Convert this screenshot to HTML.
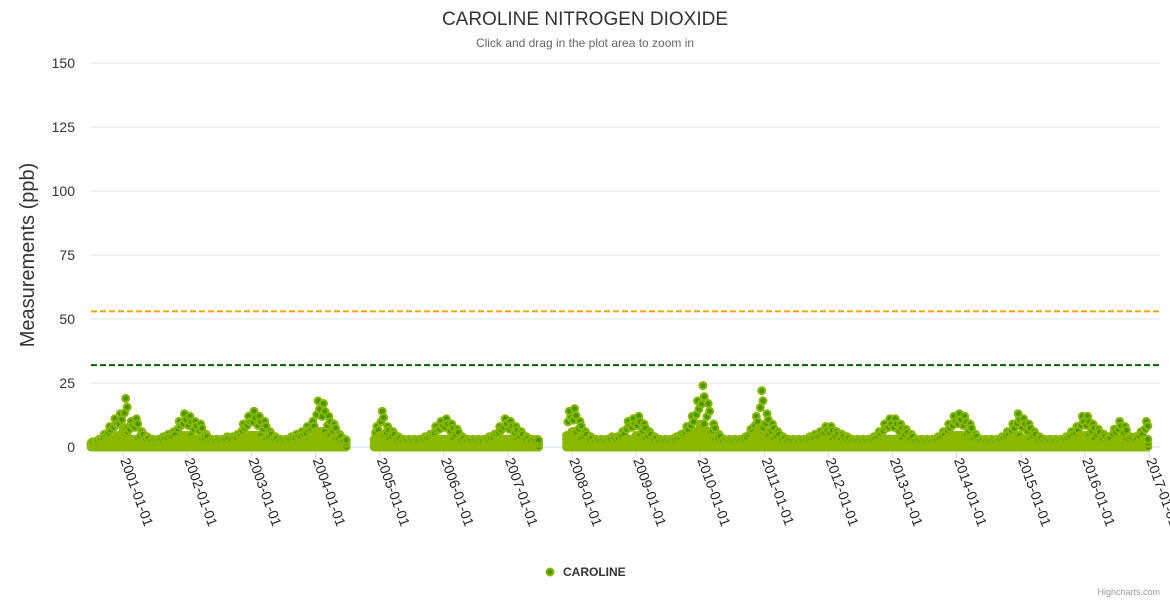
<!DOCTYPE html>
<html><head><meta charset="utf-8"><style>
body{margin:0;background:#fff;font-family:"Liberation Sans",sans-serif}
svg text{font-family:"Liberation Sans",sans-serif}
</style></head><body>
<svg id="chart" width="1170" height="600" xmlns="http://www.w3.org/2000/svg">
<rect width="1170" height="600" fill="#fff"/>
<text x="585" y="25" text-anchor="middle" font-size="19" fill="#333">CAROLINE NITROGEN DIOXIDE</text>
<text x="585" y="47" text-anchor="middle" font-size="12" fill="#666">Click and drag in the plot area to zoom in</text>
<text transform="translate(34,255) rotate(-90)" text-anchor="middle" font-size="20" fill="#333">Measurements (ppb)</text>
<g id="grid"></g><g id="ylabels"></g><g id="xaxis"></g><g id="plotlines"></g><g id="points"></g>
<g>
<circle cx="550" cy="572" r="3.5" fill="#4b9600" stroke="#8ab800" stroke-width="2"/>
<text x="563" y="576" font-size="12" font-weight="bold" fill="#333">CAROLINE</text>
</g>
<text x="1160" y="595" text-anchor="end" font-size="9" fill="#999">Highcharts.com</text>
</svg>
<script>
const yTicks=[0,25,50,75,100,125,150];
const xTickYears=[2001,2002,2003,2004,2005,2006,2007,2008,2009,2010,2011,2012,2013,2014,2015,2016,2017];
const thresholds=[53,32];
const startMonth=[2000,7];
const peakVals=[2,3,5,8,11,13,
19,10,11,6,4,3,3,4,5,6,10,13,
12,10,9,5,3,3,3,4,4,5,9,12,
14,12,10,6,4,3,3,4,5,6,8,10,
18,17,12,9,5,3,null,null,null,null,null,8,
14,8,6,4,3,3,3,3,4,5,8,10,
11,9,7,4,3,3,3,3,4,5,8,11,
10,8,6,4,3,3,null,null,null,null,null,14,
15,10,6,4,3,3,3,4,4,6,10,11,
12,9,6,4,3,3,3,4,5,8,12,18,
24,17,9,5,3,3,3,3,4,7,12,22,
13,9,6,4,3,3,3,3,4,5,6,8,
8,6,5,4,3,3,3,3,4,6,9,11,
11,9,7,5,3,3,3,3,4,6,9,12,
13,12,9,5,3,3,3,3,4,6,9,13,
11,9,6,4,3,3,3,3,4,6,8,12,
12,9,7,5,4,7,10,8,4,4,6,10];
const X0=91,X1=1160,Y0=447,Y1=63;
const tMin=2000+6.0/12, tMax=2017.17;
const xs=t=>X0+(t-tMin)/(tMax-tMin)*(X1-X0);
const ys=v=>Y0-(v-0)/(150-0)*(Y0-Y1);
const NS="http://www.w3.org/2000/svg";
function mk(tag,attrs,parent){const e=document.createElementNS(NS,tag);for(const k in attrs)e.setAttribute(k,attrs[k]);parent.appendChild(e);return e;}
const grid=document.getElementById('grid'),yl=document.getElementById('ylabels');
yTicks.forEach(v=>{
 const l=mk('line',{x1:X0,x2:X1,y1:ys(v),y2:ys(v),stroke:v===0?'#ccd6eb':'#e6e6e6','stroke-width':1},grid);
 
 
 const t=mk('text',{x:75,y:ys(v)+5,'text-anchor':'end','font-size':14,fill:'#333'},yl);
 t.textContent=v;
 
 
});
const xa=document.getElementById('xaxis');
xTickYears.forEach(yr=>{
 const x=xs(yr);
 const tk=mk('line',{x1:x,x2:x,y1:Y0,y2:Y0+10,stroke:'#ccd6eb'},xa);
 
 
 const t=mk('text',{transform:`translate(${x-3},${Y0+13}) rotate(70)`,'font-size':14,fill:'#222'},xa);
 t.textContent=yr+'-01-01';
 
 
});
const pl=document.getElementById('plotlines');
const tcol=['#f0a30a','#006400'];
thresholds.forEach((v,i)=>{
 const l=mk('line',{x1:X0,x2:X1,y1:ys(v),y2:ys(v),stroke:tcol[i],'stroke-width':2,'stroke-dasharray':'6,3'},pl);
 
 
});
const pg=document.getElementById('points');
function dot(t,v){
 const c=mk('circle',{cx:xs(t).toFixed(1),cy:ys(v).toFixed(1),r:3.5,fill:'#4b9600',stroke:'#8ab800','stroke-width':2},pg);
 
 
}
peakVals.forEach((v,i)=>{
 if(v===null)return;
 const t=startMonth[0]+(startMonth[1]-1+i)/12;
 const base=Math.max(2,v*0.4);
 for(let k=0;k<4;k++){
  const tt=t+k/48;
  for(let u=0;u<=base;u+=1.5) dot(tt,u);
 }
 dot(t+1/24,v);
 dot(t+1/48,(v+base)/2);
 dot(t+3/48,(v*0.7+base*0.3));
});
</script>
</body></html>
